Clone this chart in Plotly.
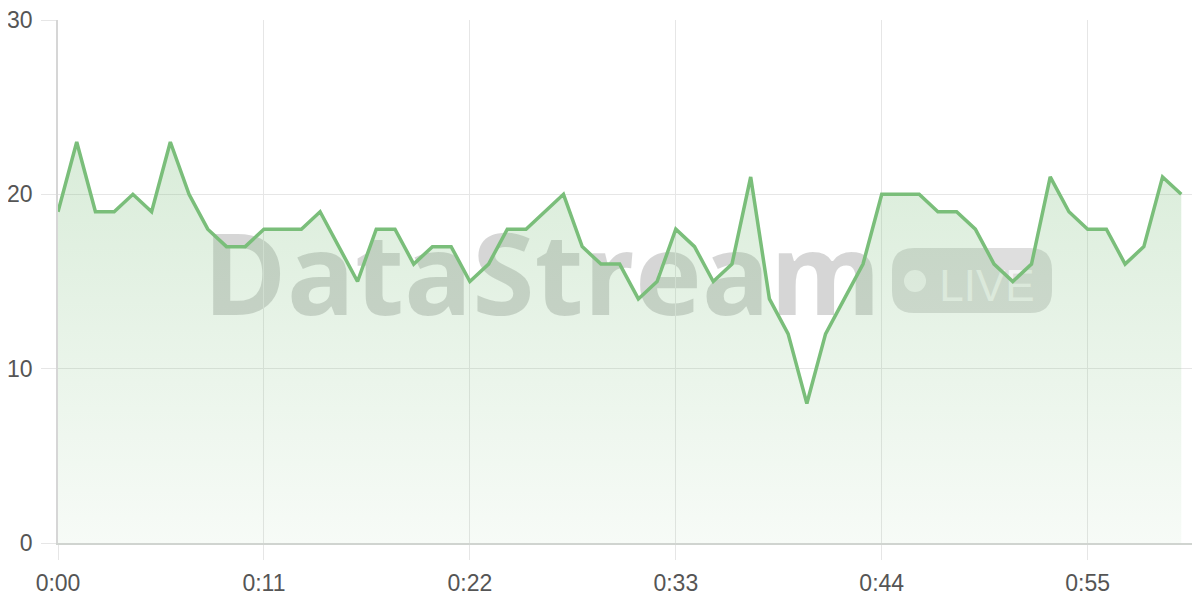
import plotly.graph_objects as go

# ---- data ----
seconds = list(range(61))
values = [19, 23, 19, 19, 20, 19, 23, 20, 18, 17,
          17, 18, 18, 18, 19, 17, 15, 18, 18, 16,
          17, 17, 15, 16, 18, 18, 19, 20, 17, 16,
          16, 14, 15, 18, 17, 15, 16, 21, 14, 12,
          8, 12, 14, 16, 20, 20, 20, 19, 19, 18,
          16, 15, 16, 21, 19, 18, 18, 16, 17, 21,
          20]
x_tickvals = [0, 11, 22, 33, 44, 55]
x_ticktext = ["0:00", "0:11", "0:22", "0:33", "0:44", "0:55"]
y_tickvals = [0, 10, 20, 30]

# ---- layout geometry (screen pixels; page body has an 8px margin) ----
OFF = 8
W, H = 1200 - OFF, 600 - OFF
PL, PR, PT, PB = 58, 1200, 20, 543          # plot area on screen
ML, MR, MT, MB = PL - OFF, 0, PT - OFF, 600 - PB
X_RANGE = [0, 61]
Y_RANGE = [0, 30]

def px2x(px):
    return X_RANGE[0] + (px - PL) / (PR - PL) * (X_RANGE[1] - X_RANGE[0])

def py2y(py):
    return Y_RANGE[0] + (PB - py) / (PB - PT) * (Y_RANGE[1] - Y_RANGE[0])

LINE = "rgb(122,190,122)"

fig = go.Figure()
fig.add_trace(go.Scatter(
    x=seconds, y=values, mode="lines",
    line=dict(color=LINE, width=3.5),
    fill="tozeroy",
    fillgradient=dict(
        type="vertical", start=0, stop=23,
        colorscale=[[0, "rgba(120,188,120,0.06)"], [1, "rgba(120,188,120,0.28)"]],
    ),
    hoverinfo="skip", showlegend=False,
))

shapes = []
# watermark "DataStream"
shapes.append(dict(
    type="rect", xref="x", yref="y", layer="below",
    x0=px2x(200), x1=px2x(884), y0=py2y(336), y1=py2y(221),
    line=dict(width=0), fillcolor="rgba(0,0,0,0)",
    label=dict(text="<b>DataStream</b>", textposition="middle center",
               font=dict(family="Open Sans", size=113, color="rgba(0,0,0,0.16)")),
))
# LIVE badge (rounded rectangle)
bx0, bx1, by0, by1, r = 892, 1052, 248, 313, 22
pts = (
    f"M {px2x(bx0 + r)},{py2y(by0)} L {px2x(bx1 - r)},{py2y(by0)} "
    f"Q {px2x(bx1)},{py2y(by0)} {px2x(bx1)},{py2y(by0 + r)} "
    f"L {px2x(bx1)},{py2y(by1 - r)} "
    f"Q {px2x(bx1)},{py2y(by1)} {px2x(bx1 - r)},{py2y(by1)} "
    f"L {px2x(bx0 + r)},{py2y(by1)} "
    f"Q {px2x(bx0)},{py2y(by1)} {px2x(bx0)},{py2y(by1 - r)} "
    f"L {px2x(bx0)},{py2y(by0 + r)} "
    f"Q {px2x(bx0)},{py2y(by0)} {px2x(bx0 + r)},{py2y(by0)} Z"
)
shapes.append(dict(type="path", path=pts, xref="x", yref="y", layer="below",
                   line=dict(width=0), fillcolor="rgba(0,0,0,0.13)"))
# dot
shapes.append(dict(type="circle", xref="x", yref="y", layer="below",
                   x0=px2x(904), x1=px2x(926), y0=py2y(292), y1=py2y(270),
                   line=dict(width=0), fillcolor="rgba(255,255,255,0.7)"))
# LIVE text
shapes.append(dict(
    type="rect", xref="x", yref="y", layer="below",
    x0=px2x(934), x1=px2x(1040), y0=py2y(310), y1=py2y(252),
    line=dict(width=0), fillcolor="rgba(0,0,0,0)",
    label=dict(text="LIVE", textposition="middle center",
               font=dict(family="Liberation Sans", size=44, color="rgba(255,255,255,0.7)")),
))

fig.update_layout(
    width=W, height=H,
    margin=dict(l=ML, r=MR, t=MT, b=MB, pad=0, autoexpand=False),
    paper_bgcolor="white", plot_bgcolor="white",
    shapes=shapes,
    font=dict(family="Liberation Sans", size=23, color="#555555"),
    hovermode=False,
)
fig.update_xaxes(
    range=X_RANGE, tickvals=x_tickvals, ticktext=x_ticktext,
    showgrid=True, gridcolor="#e6e6e6", gridwidth=1,
    ticks="outside", ticklen=15, tickcolor="#e6e6e6", tickwidth=1,
    showline=True, linecolor="#d0d4d0", linewidth=2,
    zeroline=False, ticklabelstandoff=3, automargin=False,
    ticklabeloverflow="allow",
    tickfont=dict(size=23, color="#555555"),
)
fig.update_yaxes(
    range=Y_RANGE, tickvals=y_tickvals,
    showgrid=True, gridcolor="#e6e6e6", gridwidth=1,
    ticks="outside", ticklen=15, tickcolor="#e6e6e6", tickwidth=1,
    showline=True, linecolor="#d6d6d6", linewidth=1.5,
    zeroline=False, ticklabelstandoff=4, automargin=False,
    ticklabeloverflow="allow",
    tickfont=dict(size=23, color="#555555"),
)

fig.write_html("out.html")
